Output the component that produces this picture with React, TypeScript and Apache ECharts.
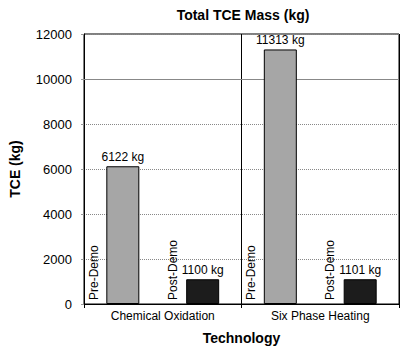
import React, { useEffect, useRef } from "react";
import * as echarts from "echarts";

const categories = ["Chemical Oxidation", "Six Phase Heating"];
const seriesNames = ["Pre-Demo", "Post-Demo"];
const preDemo = [6122, 11313];
const postDemo = [1100, 1101];
const yTicks = { min: 0, max: 12000, interval: 2000 };
const solidGridValues = [10000];

const FONT = "Liberation Sans, Arial, sans-serif";
const BAR_W = 33;

export default function App() {
  const ref = useRef<HTMLDivElement>(null);
  useEffect(() => {
    document.body.style.margin = "0";
    const chart = echarts.init(ref.current!, null, { renderer: "svg" });
    const labelData: number[][] = [];
    categories.forEach((_, i) => {
      seriesNames.forEach((__, s) => labelData.push([i, 0, s]));
    });
    chart.setOption({
      animation: false,
      textStyle: { fontFamily: FONT },
      title: {
        text: "Total TCE Mass (kg)",
        left: 238,
        textAlign: "center",
        top: 3,
        textStyle: { fontSize: 14, fontWeight: "bold", color: "#000", fontFamily: FONT },
      },
      grid: {
        left: 79,
        right: 1,
        top: 34,
        bottom: 44,
        show: true,
        borderColor: "#000",
        borderWidth: 1,
        backgroundColor: "transparent",
      },
      xAxis: {
        type: "category",
        data: categories,
        name: "Technology",
        nameLocation: "middle",
        nameGap: 27,
        nameTextStyle: { fontSize: 14, fontWeight: "bold", color: "#000", verticalAlign: "top" },
        axisLine: { show: true, lineStyle: { color: "#000", width: 1 } },
        axisTick: { show: true, length: 4, lineStyle: { color: "#000" } },
        axisLabel: { fontSize: 12, color: "#000", margin: 6 },
        splitLine: { show: true, lineStyle: { color: "#000", width: 1 } },
      },
      yAxis: {
        type: "value",
        min: yTicks.min,
        max: yTicks.max,
        interval: yTicks.interval,
        name: "TCE (kg)",
        nameLocation: "middle",
        nameGap: 62,
        nameTextStyle: { fontSize: 14, fontWeight: "bold", color: "#000" },
        axisLine: { show: true, lineStyle: { color: "#000", width: 1 } },
        axisTick: { show: true, length: 3, lineStyle: { color: "#999" } },
        axisLabel: { fontSize: 13, color: "#000", margin: 12, formatter: (v: number) => String(v) },
        splitLine: { show: true, lineStyle: { color: "#888", width: 1, type: "dotted" } },
      },
      series: [
        {
          name: seriesNames[0],
          type: "bar",
          data: preDemo,
          barWidth: BAR_W,
          barGap: "142%",
          itemStyle: { color: "#a6a6a6", borderColor: "#000", borderWidth: 1 },
          label: {
            show: true,
            position: "top",
            distance: 3,
            formatter: "{c} kg",
            fontSize: 12,
            color: "#000",
          },
          markLine: {
            silent: true,
            symbol: "none",
            z: 1,
            label: { show: false },
            lineStyle: { color: "#888", width: 1, type: "solid" },
            data: solidGridValues.map((v) => ({ yAxis: v })),
          },
        },
        {
          name: seriesNames[1],
          type: "bar",
          data: postDemo,
          barWidth: BAR_W,
          barGap: "142%",
          itemStyle: { color: "#1c1c1c", borderColor: "#000", borderWidth: 1 },
          label: {
            show: true,
            position: "top",
            distance: 3,
            formatter: "{c} kg",
            fontSize: 12,
            color: "#000",
          },
        },
        {
          type: "custom",
          data: labelData,
          encode: { x: 0, y: 1 },
          z: 10,
          silent: true,
          renderItem: (params: any, api: any) => {
            const cat = api.value(0);
            const s = api.value(2);
            const pt = api.coord([cat, 0]);
            const band = api.size([1, 0])[0];
            const cx = pt[0] + (s === 0 ? -0.25 : 0.25) * band;
            const x = cx - BAR_W / 2 - 13;
            return {
              type: "text",
              x,
              y: pt[1] - 4,
              rotation: Math.PI / 2,
              style: {
                text: seriesNames[s],
                fontSize: 12,
                fontFamily: FONT,
                fill: "#000",
                align: "left",
                verticalAlign: "middle",
              },
            };
          },
        },
      ],
    });
    return () => chart.dispose();
  }, []);
  return <div ref={ref} style={{ width: 400, height: 350 }} />;
}
